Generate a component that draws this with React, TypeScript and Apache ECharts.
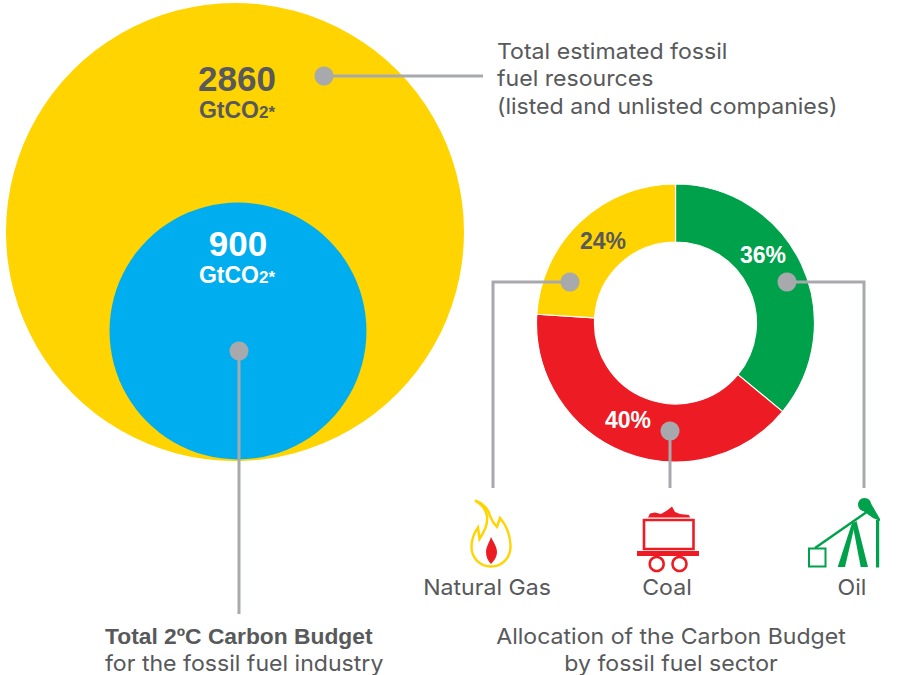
import React, { useEffect, useRef } from "react";
import * as echarts from "echarts";

const bubbleNames = ["Total estimated fossil fuel resources", "Total 2°C Carbon Budget"];
const bubbleValues = [2860, 900];
const sectors = ["Oil", "Coal", "Natural Gas"];
const shares = [36, 40, 24];
const resourceNote = ["Total estimated fossil", "fuel resources", "(listed and unlisted companies)"];
const budgetNote = ["Total 2ºC Carbon Budget", "for the fossil fuel industry"];
const allocationNote = ["Allocation of the Carbon Budget", "by fossil fuel sector"];

const YELLOW = "#ffd400";
const BLUE = "#00aeef";
const GREEN = "#00a14b";
const RED = "#ed1c24";
const INK = "#58595b";
const LEAD = "#a7a9ac";
const SANS = "'Liberation Sans', Arial, sans-serif";
const BODY = "Inter, 'Liberation Sans', Arial, sans-serif";

const flameD =
  "M475 500.5 C483 503 489 510 490 516 C492 521 495 525 497 527 L500 518 C506 525 510 534 510.5 545 C511 558 502 566.5 491 566.5 C480 566.5 471.5 558 471.5 547 C471.5 540 474 533 478 527.5 L479.5 539 C484 532 488 525 487 516 C486 510 481 504 475 500.5 Z";
const dropD = "M491 537 C494 543 497 547 497 552 C497 557 494 561 491 564 C488 561 486 557 486 552 C486 547 489 543 491 537 Z";
echarts.graphic.registerShape("flame", echarts.graphic.extendPath(flameD, {}));
echarts.graphic.registerShape("drop", echarts.graphic.extendPath(dropD, {}));

const txt = (text: string, x: number, y: number, font: string, fill = INK, align = "left") => ({
  type: "text",
  x,
  y,
  z: 20,
  style: { text, x: 0, y: 0, font, fill, align, verticalAlign: "middle" },
});
const body = (text: string, x: number, y: number, align = "left") => ({
  ...txt(text, x, y, `22px ${BODY}`, INK, align),
  scaleX: 1.05,
});
const lead = (points: number[][]) => ({
  type: "polyline",
  z: 15,
  shape: { points },
  style: { stroke: LEAD, lineWidth: 3, fill: "none" },
});
const dot = (x: number, y: number) => ({
  type: "circle",
  z: 16,
  shape: { cx: x, cy: y, r: 9.5 },
  style: { fill: LEAD },
});
const poly = (points: number[][], fill: string) => ({ type: "polygon", z: 18, shape: { points }, style: { fill } });
const gtco = (x: number, y: number, fill: string) => ({
  type: "text",
  x,
  y,
  z: 20,
  style: {
    text: "{a|GtCO}{b|2*}",
    align: "center",
    verticalAlign: "middle",
    fill,
    rich: {
      a: { font: `bold 23px ${SANS}`, fill },
      b: { font: `bold 17px ${SANS}`, fill, padding: [4, 0, 0, 0] },
    },
  },
});

export default function App() {
  const ref = useRef<HTMLDivElement>(null);
  useEffect(() => {
    document.body.style.margin = "0";
    const chart = echarts.init(ref.current!, undefined, { renderer: "svg" });
    const k = 229 * 2 / Math.sqrt(bubbleValues[0]);
    chart.setOption({
      animation: false,
      backgroundColor: "#ffffff",
      grid: { left: 0, top: 0, width: 914, height: 675 },
      xAxis: { type: "value", min: 0, max: 914, show: false },
      yAxis: { type: "value", min: 0, max: 675, inverse: true, show: false },
      series: [
        {
          type: "scatter",
          name: bubbleNames[0],
          z: 1,
          symbolSize: (v: number[]) => Math.sqrt(v[2]) * k,
          itemStyle: { color: YELLOW, opacity: 1 },
          data: [[235, 232, bubbleValues[0]]],
        },
        {
          type: "scatter",
          name: bubbleNames[1],
          z: 2,
          symbolSize: (v: number[]) => Math.sqrt(v[2]) * k,
          itemStyle: { color: BLUE, opacity: 1 },
          data: [[238, 331, bubbleValues[1]]],
        },
        {
          type: "pie",
          z: 3,
          center: [675.5, 323],
          radius: [81, 139],
          startAngle: 90,
          clockwise: true,
          label: { show: false },
          labelLine: { show: false },
          itemStyle: { borderColor: "#ffffff", borderWidth: 1.2 },
          data: sectors.map((name, i) => ({
            name,
            value: shares[i],
            itemStyle: { color: [GREEN, RED, YELLOW][i] },
          })),
        },
      ],
      graphic: [
        lead([[324, 76], [483, 76]]),
        dot(324, 76),
        lead([[239, 351], [239, 614]]),
        dot(239, 351),
        lead([[570, 282], [493, 282], [493, 488]]),
        dot(570, 282),
        lead([[670, 431], [670, 488]]),
        dot(670, 431),
        lead([[787, 282], [864, 282], [864, 488]]),
        dot(787, 282),

        txt(String(bubbleValues[0]), 237, 78, `bold 35px ${SANS}`, INK, "center"),
        gtco(237, 110, INK),
        txt(String(bubbleValues[1]), 238, 243, `bold 35px ${SANS}`, "#ffffff", "center"),
        gtco(237, 275, "#ffffff"),

        txt(`${shares[0]}%`, 763, 255, `bold 23px ${SANS}`, "#ffffff", "center"),
        txt(`${shares[1]}%`, 628, 420, `bold 23px ${SANS}`, "#ffffff", "center"),
        txt(`${shares[2]}%`, 603, 241, `bold 23px ${SANS}`, INK, "center"),

        ...resourceNote.map((t, i) => body(t, 497, [51, 78, 106][i])),
        txt(budgetNote[0], 105, 636, `bold 22.8px ${SANS}`),
        body(budgetNote[1], 105, 663),
        ...allocationNote.map((t, i) => body(t, 671, [636, 663][i], "center")),
        body(sectors[2], 487, 587, "center"),
        body(sectors[1], 667, 587, "center"),
        body(sectors[0], 852, 587, "center"),

        { type: "flame", z: 18, style: { fill: "#ffffff", stroke: YELLOW, lineWidth: 2.4 } },
        { type: "drop", z: 19, style: { fill: RED } },

        poly([[648, 517.5], [650, 513.5], [655, 512.5], [661, 514], [667, 510.5], [672, 506.5], [675, 512], [680, 514], [689, 515], [690, 517.5]], RED),
        { type: "rect", z: 18, shape: { x: 644, y: 520, width: 49.5, height: 29 }, style: { fill: "none", stroke: RED, lineWidth: 2.6 } },
        { type: "rect", z: 18, shape: { x: 637, y: 551, width: 62, height: 5 }, style: { fill: RED } },
        { type: "circle", z: 18, shape: { cx: 656.7, cy: 564, r: 7 }, style: { fill: "none", stroke: RED, lineWidth: 2.5 } },
        { type: "circle", z: 18, shape: { cx: 679.5, cy: 564, r: 7 }, style: { fill: "none", stroke: RED, lineWidth: 2.5 } },

        { type: "rect", z: 18, shape: { x: 809, y: 548.5, width: 16.5, height: 18 }, style: { fill: "none", stroke: GREEN, lineWidth: 2 } },
        { type: "line", z: 18, shape: { x1: 815, y1: 548, x2: 866, y2: 512.5 }, style: { stroke: GREEN, lineWidth: 2.4 } },
        { type: "circle", z: 18, shape: { cx: 864.5, cy: 504.5, r: 6.5 }, style: { fill: GREEN } },
        poly([[859, 508], [869, 500], [880, 519], [880, 521], [873, 518]], GREEN),
        { type: "rect", z: 18, shape: { x: 876, y: 520, width: 3.2, height: 47.5 }, style: { fill: GREEN } },
        poly([[852, 523], [855.5, 522], [845, 567], [837.7, 567]], GREEN),
        poly([[852.5, 524], [856.5, 521], [868, 567], [860.7, 567]], GREEN),
      ],
    });
    return () => chart.dispose();
  }, []);
  return <div ref={ref} style={{ width: 914, height: 675 }} />;
}
